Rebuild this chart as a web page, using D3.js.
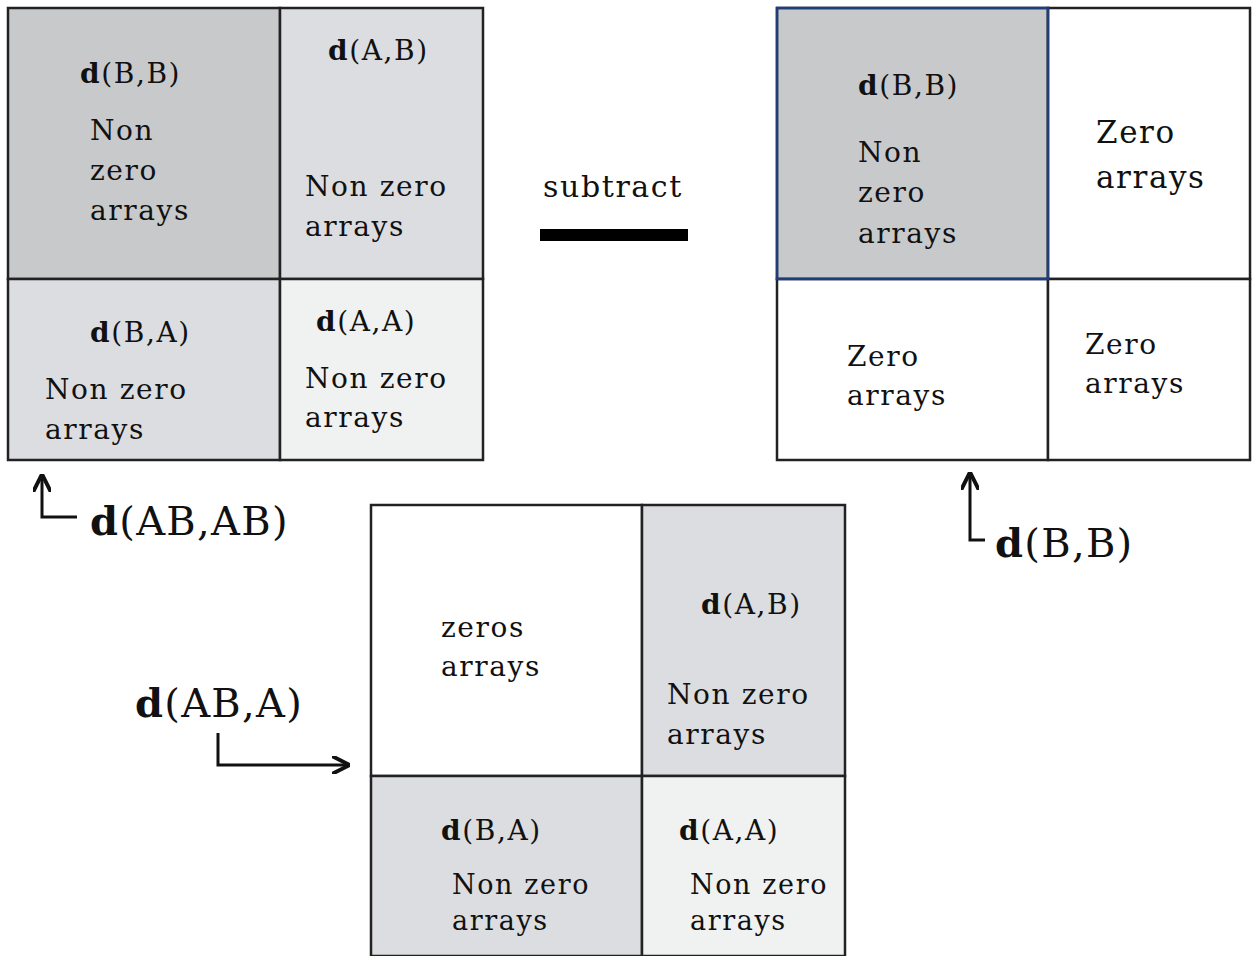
<!DOCTYPE html>
<html><head><meta charset="utf-8">
<script src="https://cdn.jsdelivr.net/npm/d3@7"></script>
<style>body{margin:0;background:#fff}</style></head>
<body><svg id="c" width="1252" height="956"></svg>
<script>
const matrices = [
  {id:"m1", x:[8,280,483], y:[8,279,460]},
  {id:"m2", x:[777,1048,1250], y:[8,279,460]},
  {id:"m3", x:[371,642,845], y:[505,776,956]}
];
const cellFills = {
  m1:["#c8c9cb","#dcdde0","#dcdde0","#f0f1f1"],
  m2:["#c8c9cb","#ffffff","#ffffff","#ffffff"],
  m3:["#ffffff","#dcdde0","#dcdde0","#f0f1f1"]
};
// labels: [bold part, rest, x, y, size]
const labels = [
  ["d","(B,B)",80,83,28],["","Non",90,140,28],["","zero",90,180,28],["","arrays",90,220,28],
  ["d","(A,B)",328,60,28],["","Non zero",305,196,28],["","arrays",305,236,28],
  ["d","(B,A)",90,342,28],["","Non zero",45,399,28],["","arrays",45,439,28],
  ["d","(A,A)",316,331,28],["","Non zero",305,388,28],["","arrays",305,427,28],
  ["d","(B,B)",858,95,28],["","Non",858,162,28],["","zero",858,202,28],["","arrays",858,243,28],
  ["","Zero",1096,143,31],["","arrays",1096,188,31],
  ["","Zero",847,366,28],["","arrays",847,405,28],
  ["","Zero",1085,354,28],["","arrays",1085,393,28],
  ["","zeros",441,637,28],["","arrays",441,676,28],
  ["d","(A,B)",701,614,28],["","Non zero",667,704,28],["","arrays",667,744,28],
  ["d","(B,A)",441,840,28],["","Non zero",452,894,27],["","arrays",452,930,27],
  ["d","(A,A)",679,840,28],["","Non zero",690,894,27],["","arrays",690,930,27],
  ["d","(AB,AB)",90,535,40],["d","(B,B)",995,557,40],["d","(AB,A)",135,717,40],
  ["","subtract",543,197,30]
];
const arrows = [
  {pts:[[77,517],[42,517],[42,476]]},
  {pts:[[985,540],[970,540],[970,474]]},
  {pts:[[218,733],[218,765],[348,765]]}
];
const svg = d3.select("#c");
svg.append("defs").append("marker").attr("id","ah").attr("viewBox","0 0 10 10")
 .attr("refX",9).attr("refY",5).attr("markerWidth",6).attr("markerHeight",6).attr("orient","auto")
 .append("path").attr("d","M0,0 L10,5 L0,10").attr("fill","none").attr("stroke","#111").attr("stroke-width",2.2);
matrices.forEach(m=>{
  const g = svg.append("g");
  const cells=[[0,0],[1,0],[0,1],[1,1]];
  g.selectAll("rect").data(cells).join("rect")
   .attr("x",d=>m.x[d[0]]).attr("y",d=>m.y[d[1]])
   .attr("width",d=>m.x[d[0]+1]-m.x[d[0]]).attr("height",d=>m.y[d[1]+1]-m.y[d[1]])
   .attr("fill",(d,i)=>cellFills[m.id][i]).attr("stroke","#222").attr("stroke-width",2.5);
  if(m.id==="m2") g.append("rect").attr("x",m.x[0]).attr("y",m.y[0]).attr("width",m.x[1]-m.x[0]).attr("height",m.y[1]-m.y[0])
     .attr("fill","none").attr("stroke","#1f3d7a").attr("stroke-width",2.5);
});
const t = svg.selectAll("text.l").data(labels).join("text")
  .attr("x",d=>d[2]).attr("y",d=>d[3]).attr("font-family","DejaVu Serif").attr("font-size",d=>d[4])
  .attr("letter-spacing",d=>d[4]>=40?1.3:1.6).attr("fill","#111");
t.append("tspan").attr("font-weight","bold").text(d=>d[0]);
t.append("tspan").text(d=>d[1]);
svg.append("rect").attr("x",540).attr("y",229).attr("width",148).attr("height",12).attr("fill","#000");
svg.selectAll("path.a").data(arrows).join("path").attr("d",d=>d3.line()(d.pts))
 .attr("fill","none").attr("stroke","#111").attr("stroke-width",3).attr("marker-end","url(#ah)");
</script></body></html>
